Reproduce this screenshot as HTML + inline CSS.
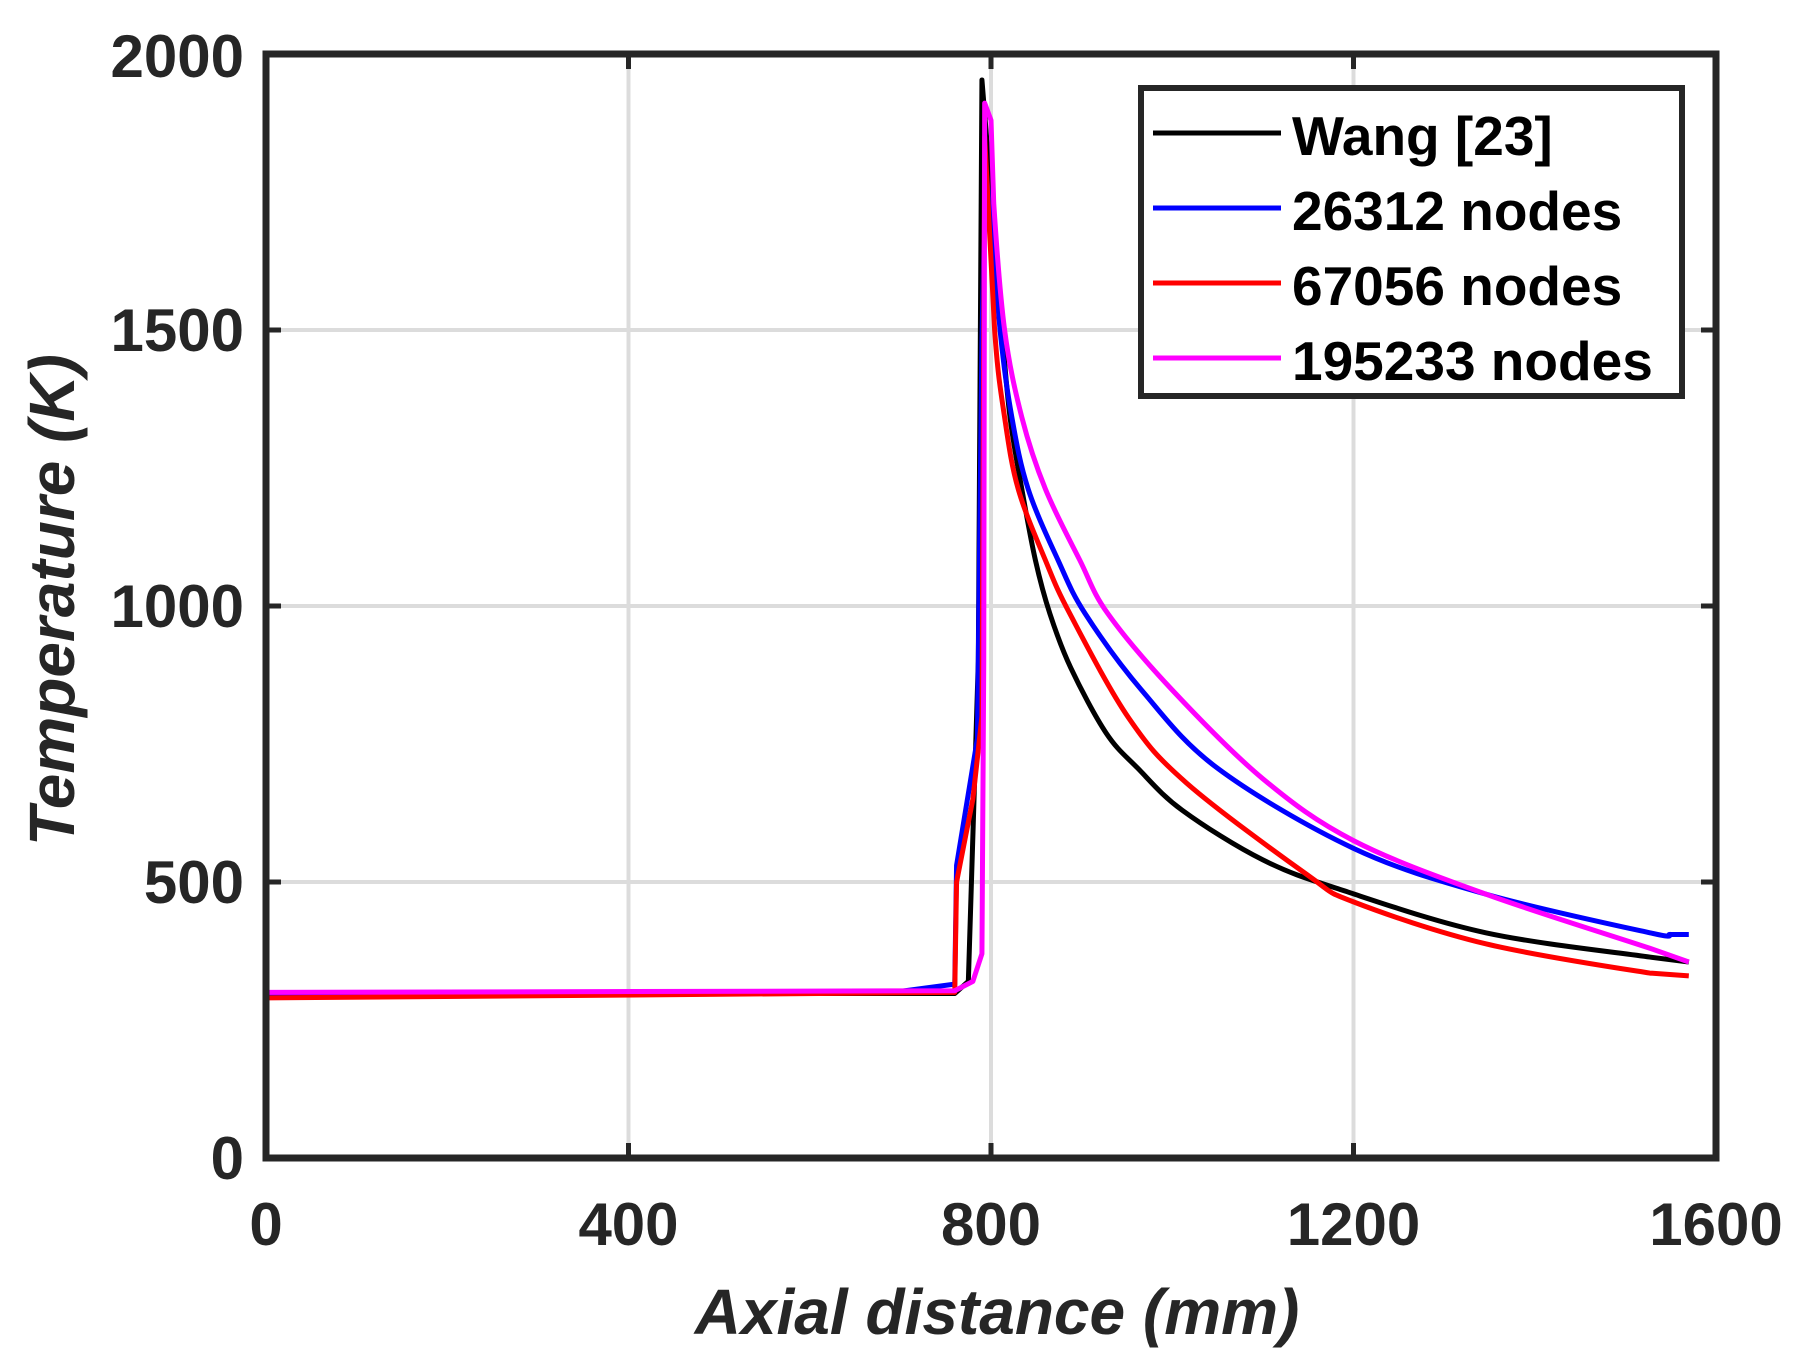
<!DOCTYPE html>
<html><head><meta charset="utf-8"><style>html,body{margin:0;padding:0;background:#fff}svg{display:block}</style></head>
<body>
<svg id="s" width="1808" height="1370" viewBox="0 0 1808 1370" xmlns="http://www.w3.org/2000/svg" font-family="Liberation Sans, sans-serif" font-weight="bold">
<rect width="1808" height="1370" fill="#fff"/>
<g stroke="#dcdcdc" stroke-width="4">
<line x1="628.5" y1="54" x2="628.5" y2="1158"/>
<line x1="991" y1="54" x2="991" y2="1158"/>
<line x1="1353.5" y1="54" x2="1353.5" y2="1158"/>
<line x1="266" y1="882" x2="1716" y2="882"/>
<line x1="266" y1="606" x2="1716" y2="606"/>
<line x1="266" y1="330" x2="1716" y2="330"/>
</g>
<g stroke="#262626" stroke-width="5">
<line x1="628.5" y1="1158" x2="628.5" y2="1143"/><line x1="991" y1="1158" x2="991" y2="1143"/><line x1="1353.5" y1="1158" x2="1353.5" y2="1143"/>
<line x1="628.5" y1="54" x2="628.5" y2="69"/><line x1="991" y1="54" x2="991" y2="69"/><line x1="1353.5" y1="54" x2="1353.5" y2="69"/>
<line x1="266" y1="882" x2="281" y2="882"/><line x1="266" y1="606" x2="281" y2="606"/><line x1="266" y1="330" x2="281" y2="330"/>
<line x1="1716" y1="882" x2="1701" y2="882"/><line x1="1716" y1="606" x2="1701" y2="606"/><line x1="1716" y1="330" x2="1701" y2="330"/>
</g>
<g id="curves" fill="none" stroke-width="5" stroke-linejoin="round"></g>
<rect x="266" y="54" width="1450" height="1104" fill="none" stroke="#262626" stroke-width="7"/>
<rect x="1141" y="88" width="541" height="308" fill="#fff" stroke="#262626" stroke-width="6"/>
<g stroke-width="5">
<line x1="1153" y1="133" x2="1281" y2="133" stroke="#000"/>
<line x1="1153" y1="208" x2="1281" y2="208" stroke="#0000ff"/>
<line x1="1153" y1="283" x2="1281" y2="283" stroke="#ff0000"/>
<line x1="1153" y1="358" x2="1281" y2="358" stroke="#ff00ff"/>
</g>
<g font-size="55" fill="#000">
<text x="1292" y="155">Wang [23]</text>
<text x="1292" y="230">26312 nodes</text>
<text x="1292" y="305">67056 nodes</text>
<text x="1292" y="380">195233 nodes</text>
</g>
<g font-size="60" fill="#262626" text-anchor="middle">
<text x="266" y="1245">0</text>
<text x="628.5" y="1245">400</text>
<text x="991" y="1245">800</text>
<text x="1353.5" y="1245">1200</text>
<text x="1716" y="1245">1600</text>
</g>
<g font-size="60" fill="#262626" text-anchor="end">
<text x="244" y="1179">0</text>
<text x="244" y="903">500</text>
<text x="244" y="627">1000</text>
<text x="244" y="351">1500</text>
<text x="244" y="77">2000</text>
</g>
<text x="997" y="1334" font-size="64" font-style="italic" fill="#262626" text-anchor="middle">Axial distance (mm)</text>
<text transform="translate(74,600) rotate(-90)" font-size="64" font-style="italic" fill="#262626" text-anchor="middle">Temperature (K)</text>
</svg>
<script>
var series=[
["#000",[[0,298],[760,298],[775,320],[786,900],[790,1953],[800,1750],[812,1500],[821,1342],[834,1212],[849,1083],[865,986],[888,888],[927,770],[962,706],[1011,630],[1100,540],[1188,485],[1346,408],[1527,364],[1570,355]],5],
["#0000ff",[[0,298],[700,302],[760,315],[762,530],[785,760],[790,1480],[794,1800],[810,1500],[823,1342],[841,1212],[874,1083],[904,986],[967,846],[1050,706],[1200,561],[1346,478],[1527,408],[1550,405],[1570,405]],7],
["#ff0000",[[0,290],[760,300],[762,500],[780,650],[790,800],[793,1850],[804,1500],[815,1342],[830,1212],[860,1083],[887,986],[952,797],[1016,679],[1149,513],[1200,464],[1346,388],[1527,335],[1570,330]],6],
["#ff00ff",[[0,300],[760,303],[780,320],[790,370],[792,900],[793,1911],[800,1880],[803,1730],[815,1500],[834,1342],[860,1212],[898,1083],[929,986],[1001,846],[1100,687],[1200,575],[1346,478],[1527,380],[1570,355]],7]];
function X(x){return 266+x*0.90625}function Y(t){return 1158-t*0.552}
var g=document.getElementById('curves'),ns='http://www.w3.org/2000/svg';
series.forEach(function(s){var p=s[1].map(function(a){return [X(a[0]),Y(a[1])]}),k=s[2];
var d='M'+p[0][0]+','+p[0][1];
for(var i=1;i<p.length;i++){
 if(i-1>=k&&i+1<p.length){var p0=p[i-2],p1=p[i-1],p2=p[i],p3=p[i+1];
  var c1=[p1[0]+(p2[0]-p0[0])/6,p1[1]+(p2[1]-p0[1])/6],c2=[p2[0]-(p3[0]-p1[0])/6,p2[1]-(p3[1]-p1[1])/6];
  d+=' C'+c1+' '+c2+' '+p2;}
 else d+=' L'+p[i];}
var e=document.createElementNS(ns,'path');e.setAttribute('d',d);e.setAttribute('stroke',s[0]);g.appendChild(e);});
</script>
</body></html>
